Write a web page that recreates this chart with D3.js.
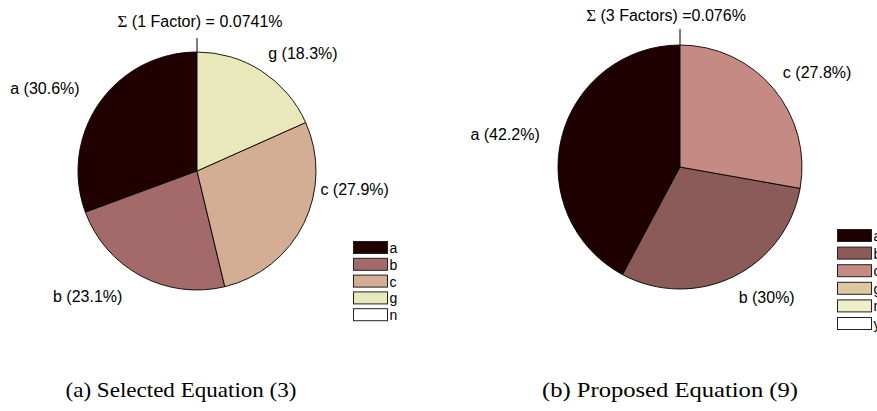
<!DOCTYPE html>
<html>
<head>
<meta charset="utf-8">
<script src="https://cdn.jsdelivr.net/npm/d3@7/dist/d3.min.js"></script>
<style>
  html, body { margin: 0; padding: 0; background: #fff; }
  svg { display: block; }
</style>
</head>
<body>
<svg id="chart" width="877" height="411"></svg>
<script>
// ---- data ----
const categoriesA = ["a", "b", "c", "g", "n"];
const sharesA = [30.6, 23.1, 27.9, 18.3, 0];
const colorsA = ["#200000", "#a46a69", "#d3ad94", "#e8e8bb", "#ffffff"];
const titleA = ["\u03A3", " (1 Factor) = 0.0741%"];
const captionA = "(a) Selected Equation (3)";

const categoriesB = ["a", "b", "c", "g", "n", "y"];
const sharesB = [42.2, 30, 27.8, 0, 0, 0];
const colorsB = ["#1e0000", "#8b5b5a", "#c58a84", "#dcc7a0", "#ededc8", "#ffffff"];
const titleB = ["\u03A3", " (3 Factors) =0.076%"];
const captionB = "(b) Proposed Equation (9)";

// ---- layout ----
const panels = [
  { cats: categoriesA, vals: sharesA, colors: colorsA, title: titleA, caption: captionA,
    cx: 197, cy: 171, r: 119, titleX: 200, titleY: 27, leaderTop: 38,
    legendX: 353, legendY: 241, legendStep: 16.8,
    captionX: 181, captionW: 231,
    nudge: { a: [-10, 0], b: [-13, 0], c: [6, -49] } },
  { cats: categoriesB, vals: sharesB, colors: colorsB, title: titleB, caption: captionB,
    cx: 680, cy: 167, r: 122, titleX: 666, titleY: 21, leaderTop: 29,
    legendX: 837, legendY: 229, legendStep: 17.6,
    captionX: 670, captionW: 256,
    nudge: { a: [-10, 8] } }
];

const svg = d3.select("#chart");
const labelFont = "'Liberation Sans', Arial, Helvetica, sans-serif";
const symbolFont = "'Liberation Serif', 'DejaVu Serif', serif";
const fmt = v => `${+v.toFixed(1)}%`;

panels.forEach(p => {
  const g = svg.append("g");
  const rows = p.cats.map((c, i) => ({ cat: c, value: p.vals[i], color: p.colors[i] }));

  // slices run counter-clockwise from 12 o'clock
  const pie = d3.pie().sort(null).value(d => d.value)
    .startAngle(0).endAngle(-2 * Math.PI);
  const arcs = pie(rows).filter(d => d.data.value > 0);
  const arc = d3.arc().innerRadius(0).outerRadius(p.r);

  const pg = g.append("g").attr("transform", `translate(${p.cx},${p.cy})`);
  pg.selectAll("path").data(arcs).join("path")
    .attr("d", arc)
    .attr("fill", d => d.data.color)
    .attr("stroke", "#000")
    .attr("stroke-width", 0.9)
    .attr("stroke-linejoin", "round");

  // slice labels at 1.1 r on the mid angle
  pg.selectAll("text").data(arcs).join("text")
    .each(function (d) {
      const mid = (d.startAngle + d.endAngle) / 2;
      const sx = Math.sin(mid), sy = -Math.cos(mid);
      const n = p.nudge[d.data.cat] || [0, 0];
      const x = 1.1 * p.r * sx + n[0];
      const y = 1.1 * p.r * sy + (sy < 0 ? -8 : 10) + n[1];
      d3.select(this)
        .attr("x", x).attr("y", y)
        .attr("text-anchor", sx < 0 ? "end" : "start")
        .attr("dominant-baseline", "central");
    })
    .attr("font-family", labelFont)
    .attr("font-size", 16)
    .attr("fill", "#000")
    .text(d => `${d.data.cat} (${fmt(d.data.value)})`);

  // title and leader line
  const t = g.append("text")
    .attr("x", p.titleX).attr("y", p.titleY)
    .attr("text-anchor", "middle")
    .attr("font-family", labelFont)
    .attr("font-size", 16);
  t.append("tspan").attr("font-family", symbolFont).attr("font-size", 17).text(p.title[0]);
  t.append("tspan").text(p.title[1]);
  g.append("line")
    .attr("x1", p.cx).attr("x2", p.cx)
    .attr("y1", p.leaderTop).attr("y2", p.cy - p.r)
    .attr("stroke", "#000").attr("stroke-width", 1);

  // legend
  const lg = g.append("g");
  const item = lg.selectAll("g").data(rows).join("g")
    .attr("transform", (d, i) => `translate(${p.legendX},${p.legendY + i * p.legendStep})`);
  item.append("rect")
    .attr("x", 0.5).attr("y", 0.5)
    .attr("width", 34).attr("height", 12)
    .attr("fill", d => d.color)
    .attr("stroke", "#222").attr("stroke-width", 1);
  item.append("text")
    .attr("x", 36.5).attr("y", 7)
    .attr("dominant-baseline", "central")
    .attr("font-family", labelFont)
    .attr("font-size", 14)
    .text(d => d.cat);

  // caption
  g.append("text")
    .attr("x", p.captionX).attr("y", 397)
    .attr("text-anchor", "middle")
    .attr("font-family", "'Liberation Serif', 'DejaVu Serif', serif")
    .attr("font-size", 21)
    .attr("textLength", p.captionW)
    .attr("lengthAdjust", "spacingAndGlyphs")
    .text(p.caption);
});
</script>
</body>
</html>
